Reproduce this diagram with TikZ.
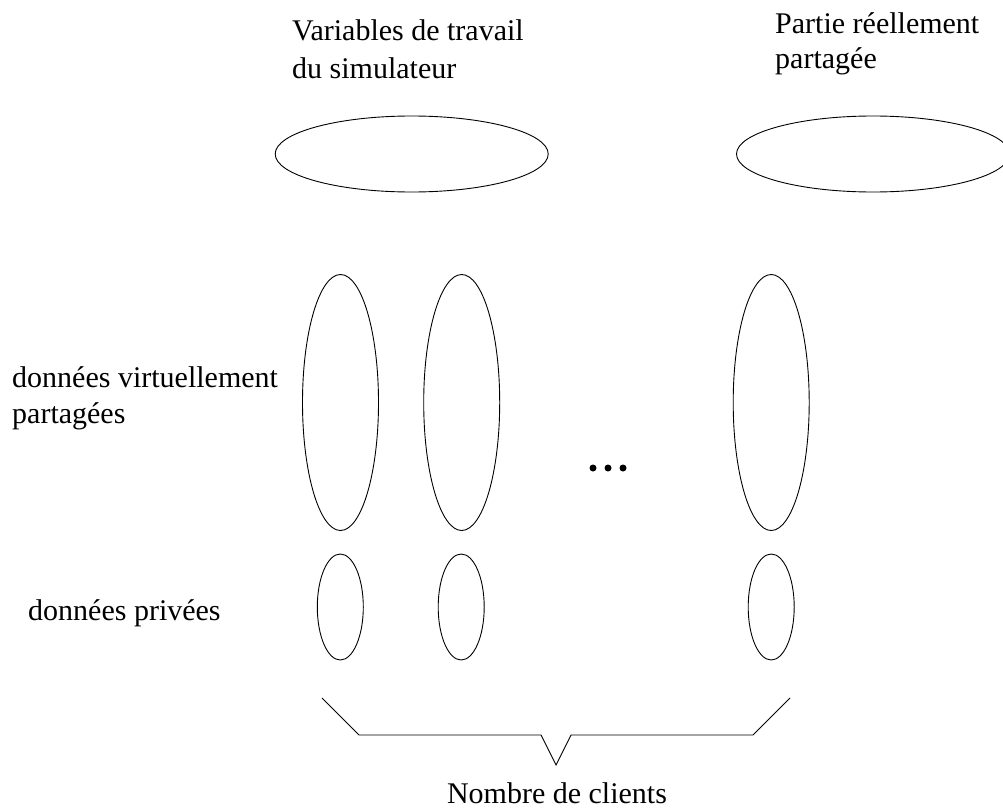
\documentclass[tikz,border=0pt]{standalone}
\usepackage{fontspec}
\setmainfont{Liberation Serif}
\usetikzlibrary{shapes.geometric}
\begin{document}
\begin{tikzpicture}[x=1pt,y=-1pt,
  lbl/.style={anchor=base west,inner sep=0pt,font=\fontsize{30}{37}\selectfont},
  ell/.style={draw,ellipse,line width=0.9pt,inner sep=0pt},
  topell/.style={ell,minimum width=273pt,minimum height=76pt},
  tallell/.style={ell,minimum width=76pt,minimum height=256pt},
  smallell/.style={ell,minimum width=46pt,minimum height=106pt},
  bracel/.style={line width=0.9pt,line join=miter}]
\clip (0,0) rectangle (1003,808);
\useasboundingbox (0,0) rectangle (1003,808);
% labels
\node[lbl] (t1a) at (292,40.7) {Variables de travail};
\node[lbl] (t1b) at (292,78.3) {du simulateur};
\node[lbl] (t2a) at (775,33.3) {Partie réellement};
\node[lbl] (t2b) at (775,68.5) {partagée};
\node[lbl] (t3a) at (12,387) {données virtuellement};
\node[lbl] (t3b) at (12,423) {partagées};
\node[lbl] (t4) at (28,620) {données privées};
\node[lbl,anchor=base] (t5) at (557,803) {Nombre de clients};
% top ellipses
\node[topell] (e1) at (411.7,154) {};
\node[topell] (e2) at (873,154) {};
% tall ellipses
\node[tallell] (v1) at (340.5,402.5) {};
\node[tallell] (v2) at (461.7,402.5) {};
\node[tallell] (v3) at (771.2,402.5) {};
% small ellipses
\node[smallell] (p1) at (340.3,607) {};
\node[smallell] (p2) at (461.2,607) {};
\node[smallell] (p3) at (771.2,607) {};
% dots
\fill (593,468) circle (3.5);
\fill (608,468) circle (3.5);
\fill (623,468) circle (3.5);
% brace
\coordinate (b1) at (322,698);
\coordinate (b2) at (359,735);
\coordinate (b3) at (541,735);
\coordinate (b4) at (556,765);
\coordinate (b5) at (571,735);
\coordinate (b6) at (753,735);
\coordinate (b7) at (790,698);
\draw[bracel] (b1) -- (b2) -- (b3) -- (b4) -- (b5) -- (b6) -- (b7);
\end{tikzpicture}
\end{document}
